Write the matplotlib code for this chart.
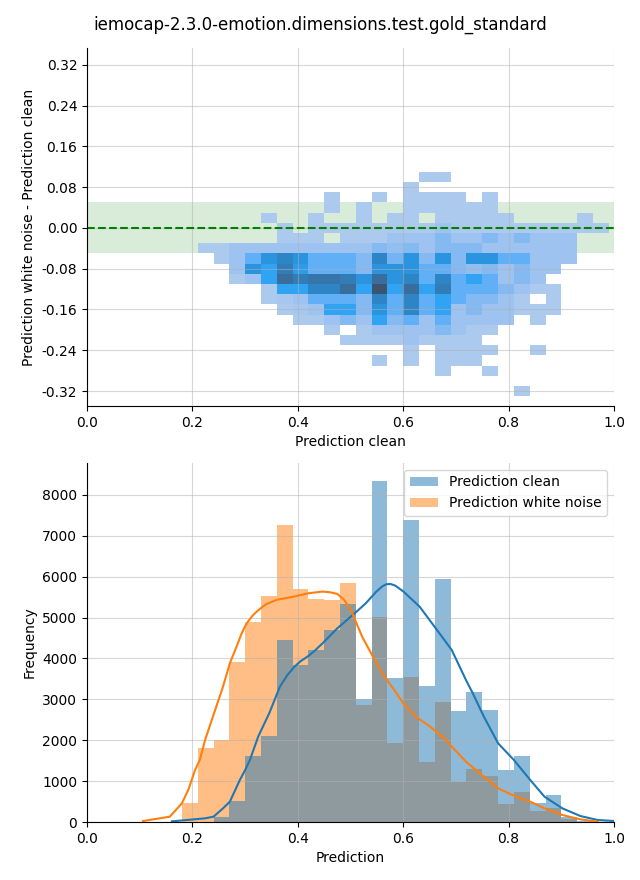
import numpy as np
import matplotlib
matplotlib.use("Agg")
import matplotlib.pyplot as plt
from matplotlib.colors import ListedColormap, PowerNorm, to_rgb
from seaborn.external import husl

title = "iemocap-2.3.0-emotion.dimensions.test.gold_standard"

# top: 2d histogram of clean prediction vs (noise - clean)
x_edges = np.round(np.arange(0.21, 0.99 + 1e-6, 0.03), 2)   # 26 columns
y_edges = np.round(np.arange(-0.33, 0.11 + 1e-6, 0.02), 2)  # 22 rows
# colour level per cell, rows listed from top (0.10) to bottom (-0.32), 0 = empty
cell_level = [
    [0, 0, 0, 0, 0, 0, 0, 0, 0, 0, 0, 0, 0, 0, 1, 1, 0, 0, 0, 0, 0, 0, 0, 0, 0, 0],
    [0, 0, 0, 0, 0, 0, 0, 0, 0, 0, 0, 0, 0, 1, 0, 0, 0, 0, 0, 0, 0, 0, 0, 0, 0, 0],
    [0, 0, 0, 0, 0, 0, 0, 0, 1, 0, 0, 1, 0, 1, 1, 1, 1, 0, 1, 0, 0, 0, 0, 0, 0, 0],
    [0, 0, 0, 0, 0, 0, 0, 0, 1, 0, 1, 0, 0, 1, 1, 1, 1, 1, 1, 0, 0, 0, 0, 0, 0, 0],
    [0, 0, 0, 0, 1, 0, 0, 1, 0, 0, 1, 0, 1, 1, 0, 1, 1, 1, 1, 1, 0, 0, 0, 0, 1, 0],
    [0, 0, 0, 0, 0, 1, 0, 1, 1, 1, 1, 1, 1, 1, 1, 2, 1, 1, 1, 1, 1, 1, 1, 1, 1, 1],
    [0, 0, 0, 0, 0, 1, 1, 1, 0, 1, 1, 1, 2, 2, 2, 3, 2, 2, 3, 2, 3, 2, 2, 2, 0, 0],
    [1, 1, 2, 2, 2, 2, 2, 2, 2, 2, 2, 3, 2.5, 3, 2, 3, 3, 3, 2, 2, 2, 2, 2, 2, 0, 0],
    [0, 1, 2, 4, 6, 7, 6, 4, 4, 4, 3, 7, 3.5, 6, 3, 6, 3, 6, 6, 4, 4, 2, 2, 2, 0, 0],
    [0, 0, 2, 6, 5, 7.5, 5.5, 4, 4, 4, 3, 6, 6, 6, 4, 4, 3, 2.5, 3, 2, 3, 2, 2, 0, 0, 0],
    [0, 0, 1, 2, 5, 8.5, 7.5, 8, 8, 7.5, 6, 8.5, 6, 7, 4, 7, 4, 5, 4, 2, 3, 2, 0, 0, 0, 0],
    [0, 0, 0, 0, 1, 5, 5, 7, 7, 8.5, 5, 10, 5, 8.5, 5, 7.5, 4, 4, 4, 3, 2, 1, 1, 0, 0, 0],
    [0, 0, 0, 0, 1, 1.5, 2, 4, 4, 4, 3, 7, 4, 7, 4, 5, 4, 3, 3, 2, 1, 0, 1, 0, 0, 0],
    [0, 0, 0, 0, 0, 1, 1.5, 2, 5, 5, 3, 6, 4, 7, 4, 5, 2, 3, 2, 2, 1, 1, 1, 0, 0, 0],
    [0, 0, 0, 0, 0, 0, 1, 1, 2, 3, 2, 5, 3, 4, 2, 4, 2, 2, 2, 2, 0, 1, 0, 0, 0, 0],
    [0, 0, 0, 0, 0, 0, 0, 0, 1, 0, 1, 2, 2, 2, 2, 3, 2, 1, 1, 0, 0, 0, 0, 0, 0, 0],
    [0, 0, 0, 0, 0, 0, 0, 0, 0, 1, 1, 1, 1, 2, 1, 1, 1, 1, 0, 0, 0, 0, 0, 0, 0, 0],
    [0, 0, 0, 0, 0, 0, 0, 0, 0, 0, 0, 0, 0, 1, 0, 1, 1, 1, 1, 0, 0, 1, 0, 0, 0, 0],
    [0, 0, 0, 0, 0, 0, 0, 0, 0, 0, 0, 1, 0, 1, 0, 1, 1, 1, 0, 0, 0, 0, 0, 0, 0, 0],
    [0, 0, 0, 0, 0, 0, 0, 0, 0, 0, 0, 0, 0, 0, 0, 1, 0, 0, 1, 0, 0, 0, 0, 0, 0, 0],
    [0, 0, 0, 0, 0, 0, 0, 0, 0, 0, 0, 0, 0, 0, 0, 0, 0, 0, 0, 0, 0, 0, 0, 0, 0, 0],
    [0, 0, 0, 0, 0, 0, 0, 0, 0, 0, 0, 0, 0, 0, 0, 0, 0, 0, 0, 0, 1, 0, 0, 0, 0, 0],
]
diff_ticks = [-0.32, -0.24, -0.16, -0.08, 0.0, 0.08, 0.16, 0.24, 0.32]

# bottom: histograms (bins of 0.03 starting at 0.18)
bin_left = np.round(np.arange(0.18, 0.93 + 1e-6, 0.03), 2)
count_clean = [0, 0, 130, 514, 1615, 2104, 4453, 3841, 4208, 4697, 5333, 3001, 8343,
               3515, 7388, 3327, 5945, 2716, 3180, 2740, 1272, 1615, 465, 660, 120, 30]
count_noise = [465, 1819, 1998, 3923, 4893, 5529, 7266, 5700, 5456, 5431, 5847, 2862, 5007,
               1933, 3547, 1468, 2936, 987, 1297, 1125, 449, 734, 260, 340, 65, 0]

# kde curves
kde_x_clean = [0.161, 0.224, 0.24, 0.258, 0.271, 0.29, 0.3, 0.309, 0.325, 0.346, 0.366,
               0.38, 0.393, 0.405, 0.42, 0.433, 0.447, 0.475, 0.508, 0.529, 0.549, 0.56,
               0.568, 0.576, 0.585, 0.6, 0.631, 0.664, 0.692, 0.719, 0.732, 0.753, 0.78,
               0.81, 0.841, 0.868, 0.902, 0.936, 0.969, 1.0]
kde_y_clean = [16, 90, 130, 334, 497, 1028, 1270, 1517, 2094, 2667, 3311,
               3590, 3790, 3930, 4060, 4200, 4371, 4738, 5105, 5349, 5635, 5760,
               5815, 5820, 5780, 5640, 5268, 4697, 4208, 3474, 3148, 2577, 1925,
               1517, 1028, 620, 334, 147, 49, 24]
kde_x_noise = [0.106, 0.157, 0.18, 0.192, 0.205, 0.214, 0.224, 0.241, 0.258, 0.271, 0.285,
               0.293, 0.3, 0.307, 0.315, 0.325, 0.339, 0.359, 0.393, 0.42, 0.447, 0.461,
               0.475, 0.488, 0.502, 0.522, 0.539, 0.556, 0.569, 0.583, 0.6, 0.624, 0.651,
               0.678, 0.698, 0.719, 0.753, 0.78, 0.807, 0.841, 0.868, 0.902, 0.936, 0.969]
kde_y_noise = [24, 130, 457, 783, 1272, 1517, 2007, 2659, 3311, 3882, 4330,
               4600, 4790, 4930, 5060, 5180, 5320, 5431, 5513, 5594, 5635, 5619,
               5578, 5431, 5146, 4534, 4126, 3719, 3474, 3230, 2904, 2577, 2332,
               2047, 1762, 1476, 1109, 824, 661, 497, 334, 171, 65, 8]


def cmap_from_color(color):
    # same ramp seaborn uses for bivariate histograms
    r, g, b = to_rgb(color)
    h, s, _ = husl.rgb_to_husl(r, g, b)
    xx = np.linspace(-1, 1, int(1.15 * 256))[:256]
    ramp = [husl.husl_to_rgb(h, s * np.cos(v), l)
            for v, l in zip(xx, np.linspace(35, 80, 256))]
    return ListedColormap(np.clip(ramp, 0, 1)[::-1])


fig = plt.figure(figsize=(6.4, 8.8), dpi=100)
fig.suptitle(title, fontsize=12, y=0.982)

ax1 = fig.add_axes([0.136, 0.5386, 0.8234, 0.4068])
ax1.axhspan(-0.05, 0.05, color="green", alpha=0.15, lw=0, zorder=0.8)
levels = np.ma.masked_equal(np.array(cell_level[::-1], dtype=float), 0)
ax1.pcolormesh(x_edges, y_edges, levels, cmap=cmap_from_color("#1f77b4"),
               norm=PowerNorm(1.3, vmin=1, vmax=10))
ax1.axhline(0, color="green", linestyle="--", linewidth=1.5)
ax1.set_xlim(0, 1)
ax1.set_ylim(-0.3494, 0.3528)
ax1.set_yticks(diff_ticks, labels=[f"{t:.2f}" for t in diff_ticks])
ax1.set_xlabel("Prediction clean")
ax1.set_ylabel("Prediction white noise - Prediction clean")
ax1.grid(True, color="#b0b0b0", alpha=0.5, linewidth=0.8)
for side in ["top", "right"]:
    ax1.spines[side].set_visible(False)

ax2 = fig.add_axes([0.136, 0.0659, 0.8234, 0.408])
bars_noise = ax2.bar(bin_left, count_noise, width=0.03, align="edge", color="tab:orange", alpha=0.5)
bars_clean = ax2.bar(bin_left, count_clean, width=0.03, align="edge", color="tab:blue", alpha=0.5)
ax2.plot(kde_x_clean, kde_y_clean, color="tab:blue", linewidth=1.5)
ax2.plot(kde_x_noise, kde_y_noise, color="tab:orange", linewidth=1.5)
ax2.set_xlim(0, 1)
ax2.set_ylim(0, 8780)
ax2.set_yticks(range(0, 8001, 1000))
ax2.set_xlabel("Prediction")
ax2.set_ylabel("Frequency")
ax2.grid(True, color="#b0b0b0", alpha=0.5, linewidth=0.8)
ax2.legend([bars_clean, bars_noise], ["Prediction clean", "Prediction white noise"], loc="upper right")
for side in ["top", "right"]:
    ax2.spines[side].set_visible(False)

fig.savefig("out.png", dpi=100)
